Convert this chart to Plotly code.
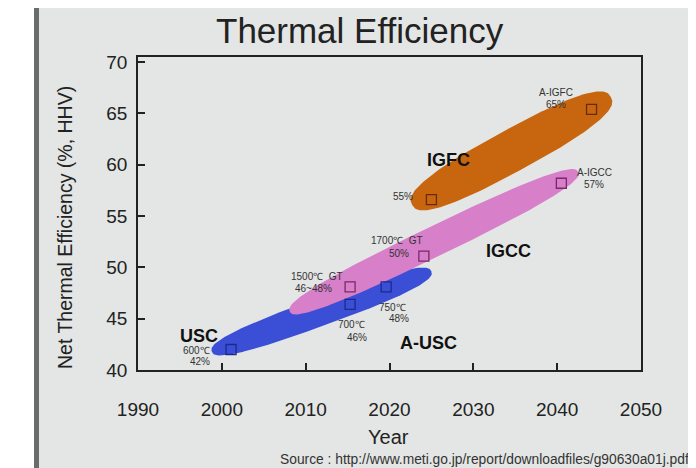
import numpy as np
import plotly.graph_objects as go

# ---------------- data ----------------
# band regions: (start year, start eff) -> (end year, end eff)
band_names = ["A-USC", "IGCC", "IGFC"]
band_start_year = [1998.8, 2008.1, 2022.7]
band_start_eff = [41.8, 45.7, 56.1]
band_end_year = [2025.0, 2042.5, 2046.4]
band_end_eff = [49.6, 59.3, 66.6]

# milestone points
usc_years = [2001.1, 2015.3, 2019.6]
usc_eff = [42.0, 46.4, 48.1]
igcc_years = [2015.3, 2024.1, 2040.5]
igcc_eff = [48.1, 51.1, 58.2]
igfc_years = [2025.0, 2044.1]
igfc_eff = [56.6, 65.4]

# big labels
big_labels = ["USC", "A-USC", "IGCC", "IGFC"]
big_x = [1997.3, 2024.6, 2034.2, 2027.0]
big_y = [43.3, 42.6, 51.6, 60.5]

# small labels
small_labels = ["600℃", "42%", "700℃", "46%", "750℃", "48%",
                "1500℃  GT", "46~48%", "1700℃  GT", "50%",
                "55%", "A-IGFC", "65%", "A-IGCC", "57%"]
small_x = [1997.0, 1997.4, 2015.5, 2016.1, 2020.4, 2021.1,
           2011.4, 2010.9, 2020.9, 2021.1,
           2021.6, 2039.9, 2039.9, 2044.4, 2044.4]
small_y = [41.9, 40.8, 44.4, 43.2, 46.1, 45.0,
           49.1, 47.9, 52.6, 51.4,
           56.9, 67.0, 65.9, 59.2, 58.1]

x_ticks = [1990, 2000, 2010, 2020, 2030, 2040, 2050]
y_ticks = [40, 45, 50, 55, 60, 65, 70]

# ---------------- layout constants ----------------
OFF = 8                       # page body margin of the browser
W, H = 696 - 2 * OFF, 468 - OFF
ML, MT = 138 - OFF, 57 - OFF
MR = W - (641 - OFF)
MB = H - (370 - OFF)
PW, PH = W - ML - MR, H - MT - MB
XR = [1990, 2050]
YR = [40, 70.5]
ppx = PW / (XR[1] - XR[0])   # px per year
ppy = PH / (YR[1] - YR[0])   # px per efficiency unit

band_colors = ["#3a4fd6", "#d77fc9", "#c8660f"]
band_thick_px = [28, 30, 42]


def band_outline(x0, y0, x1, y1, thick, n=2.6, npts=200):
    # work in pixel space so the rounded band keeps its on-screen shape
    X0, Y0, X1, Y1 = x0 * ppx, y0 * ppy, x1 * ppx, y1 * ppy
    cx, cy = (X0 + X1) / 2, (Y0 + Y1) / 2
    a = np.hypot(X1 - X0, Y1 - Y0) / 2
    b = thick / 2
    ang = np.arctan2(Y1 - Y0, X1 - X0)
    t = np.linspace(0, 2 * np.pi, npts)
    u = a * np.sign(np.cos(t)) * np.abs(np.cos(t)) ** (2 / n)
    v = b * np.sign(np.sin(t)) * np.abs(np.sin(t)) ** (2 / n)
    X = cx + u * np.cos(ang) - v * np.sin(ang)
    Y = cy + u * np.sin(ang) + v * np.cos(ang)
    return X / ppx, Y / ppy


def px_x(p):  # screen pixel x -> paper fraction
    return (p - OFF - ML) / PW


def px_y(p):  # screen pixel y (from top) -> paper fraction
    return (H - MB - (p - OFF)) / PH


fig = go.Figure()

for i in range(3):
    bx, by = band_outline(band_start_year[i], band_start_eff[i],
                          band_end_year[i], band_end_eff[i], band_thick_px[i])
    fig.add_trace(go.Scatter(x=bx, y=by, mode="lines", fill="toself",
                             fillcolor=band_colors[i], line=dict(width=0),
                             hoverinfo="skip", showlegend=False))

for xs, ys, col in [(usc_years, usc_eff, "#1c2a8c"),
                    (igcc_years, igcc_eff, "#7a2a6a"),
                    (igfc_years, igfc_eff, "#6a2a10")]:
    fig.add_trace(go.Scatter(x=xs, y=ys, mode="markers", showlegend=False,
                             marker=dict(symbol="square-open", size=10,
                                         color=col, line=dict(width=1.3, color=col))))

for t, x, y in zip(big_labels, big_x, big_y):
    fig.add_annotation(x=x, y=y, text="<b>%s</b>" % t, showarrow=False,
                       font=dict(size=18, color="#111111"))

for t, x, y in zip(small_labels, small_x, small_y):
    fig.add_annotation(x=x, y=y, text=t, showarrow=False,
                       font=dict(size=10, color="#333333"))

# slide background (photo)
fig.add_shape(type="rect", xref="paper", yref="paper", layer="below",
              x0=px_x(34), x1=px_x(691), y0=px_y(468), y1=px_y(3),
              fillcolor="#e3e6e4", line=dict(width=0))
fig.add_shape(type="rect", xref="paper", yref="paper", layer="below",
              x0=px_x(34), x1=px_x(39), y0=px_y(468), y1=px_y(3),
              fillcolor="#6a6c6c", line=dict(width=0))
fig.add_shape(type="rect", xref="paper", yref="paper", layer="below",
              x0=px_x(34), x1=px_x(691), y0=px_y(8), y1=px_y(3),
              fillcolor="#8a8c8c", line=dict(width=0))

fig.add_annotation(xref="paper", yref="paper", x=px_x(360), y=px_y(30),
                   xanchor="center", yanchor="middle",
                   text="Thermal Efficiency", showarrow=False,
                   font=dict(size=35, color="#222222"))
fig.add_annotation(xref="paper", yref="paper", xanchor="right", yanchor="middle",
                   x=px_x(691), y=px_y(459),
                   text="Source : http://www.meti.go.jp/report/downloadfiles/g90630a01j.pdf",
                   showarrow=False, font=dict(size=13.8, color="#333333"))
fig.add_annotation(xref="paper", yref="paper", xanchor="center", yanchor="middle",
                   x=px_x(388), y=px_y(437), text="Year", showarrow=False,
                   font=dict(size=20, color="#222222"))
fig.add_annotation(xref="paper", yref="paper", xanchor="center", yanchor="middle",
                   x=px_x(65), y=px_y(228), text="Net Thermal Efficiency (%, HHV)",
                   textangle=-90, showarrow=False,
                   font=dict(size=19.5, color="#222222"))

fig.update_layout(
    width=W, height=H,
    margin=dict(l=ML, r=MR, t=MT, b=MB, autoexpand=False),
    paper_bgcolor="#ffffff",
    plot_bgcolor="#dde0c5",
    font=dict(family="Liberation Sans, Arial, sans-serif", color="#222222"),
    showlegend=False,
)
fig.update_xaxes(range=XR, tickvals=x_ticks, ticks="inside", ticklen=7,
                 tickcolor="#222222", tickwidth=1.5, showgrid=False, zeroline=False,
                 showline=True, linecolor="#222222", linewidth=1.5, mirror=True,
                 tickfont=dict(size=19), ticklabelstandoff=21, automargin=False)
fig.update_yaxes(range=YR, tickvals=y_ticks, ticks="inside", ticklen=7,
                 tickcolor="#222222", tickwidth=1.5, showgrid=False, zeroline=False,
                 showline=True, linecolor="#222222", linewidth=1.5, mirror=True,
                 tickfont=dict(size=19), ticklabelstandoff=5, automargin=False)

fig.write_html("out.html")
